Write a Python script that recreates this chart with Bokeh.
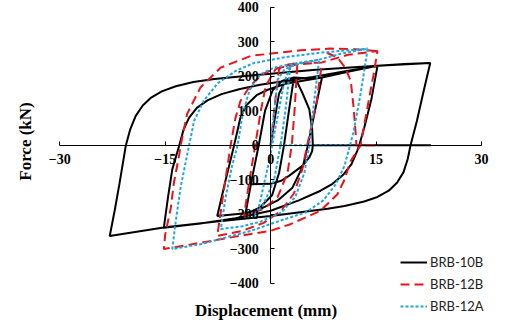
import math
from bokeh.plotting import figure
from bokeh.models import ColumnDataSource, Range1d, FixedTicker, Label, Legend, LegendItem
from bokeh.embed import file_html
from bokeh.resources import INLINE

NaN = float("nan")

# ---------------- data ----------------
brb10b_x = [0, 0.6, 1.2, 2.0, 3.3,
            2.6, 1.9, 1.2, 0.2, -1.5, -3.6,
            -2.7, -1.7, -0.8, 0.3, 1.6, 3.3,
            5.0, 7.3,
            6.3, 5.3, 4.6, 3.1, 1.0, -1.5, -3.6, -7.6,
            -6.4, -5.2, -4.3, -3.5, -2.0, -0.5, 2.1, 5.0, 7.3,
            11.0, 15.2,
            14.3, 13.3, 12.6, 12.3, 11.5, 10.4, 8.8, 7.1, 4.0, 0.0, -5.0, -10.0, -15.2,
            -14.6, -14.0, -13.0, -12.4, -11.6, -10.5, -9.0, -7.0, -4.5, -1.5, 2.0, 6.0, 10.0, 15.2,
            19.0, 22.7,
            21.8, 20.8, 19.9, 19.5, 18.9, 18.0, 16.8, 15.2, 13.3, 10.5, 8.1, 0.0, -8.0, -15.0, -22.9,
            -22.2, -21.5, -20.6, -20.0, -19.2, -18.2, -17.0, -15.5, -13.5, -11.0, -8.0, -4.0, 0.0, 6.0, 14.0, 22.7,
            NaN,
            -2.8, 0.0, 1.5, 2.6, 4.5, 5.5, 5.9, 6.0, 5.9, 5.5, 4.5, 3.6, 2.5,
            NaN,
            6.0, 22.8]
brb10b_y = [0, 80, 150, 182, 196,
            100, 0, -80, -145, -180, -200,
            -100, 0, 100, 160, 186, 196,
            194, 196,
            100, 0, -60, -123, -160, -185, -197, -205,
            -100, 0, 80, 115, 145, 160, 178, 188, 196,
            213, 230,
            130, 50, 0, -17, -55, -84, -112, -132, -160, -190, -212, -227, -239,
            -150, -70, 0, 45, 80, 108, 130, 148, 162, 175, 186, 198, 212, 230,
            235, 238,
            160, 70, 0, -40, -78, -108, -132, -150, -163, -176, -184, -205, -222, -238, -263,
            -190, -110, 0, 45, 85, 115, 138, 156, 171, 183, 192, 200, 207, 218, 229, 238,
            NaN,
            -113, -112, -103, -89, -60, -35, -17, 0, 46, 104, 152, 190, 186,
            NaN,
            0, 0]

brb12b_x = [0, 0.6, 1.2, 2.5, 3.8,
            3.4, 3.0, 2.4, 1.0, -1.0, -3.8,
            -3.0, -2.2, -1.4, -0.7, 0.7, 2.5, 3.8,
            5.5, 7.3,
            6.5, 5.2, 4.5, 3.3, 1.5, -1.0, -4.0, -7.6,
            -6.8, -5.7, -5.0, -4.3, -3.0, -1.2, 0.5, 3.5, 7.3,
            11.0, 15.2,
            14.6, 14.2, 13.5, 12.8, 11.4, 10.5, 9.5, 7.1, 2.8, 0.0, -5.0, -10.0, -15.2,
            -15.0, -14.2, -13.8, -13.0, -12.8, -11.9, -10.0, -7.1, -2.8, 4.3, 8.5, 12.0, 15.2,
            NaN,
            8.0, 9.5, 10.6, 11.4, 11.8, 12.1, 12.2, 15.2]
brb12b_y = [0, 120, 221, 232, 238,
            100, 0, -80, -150, -185, -205,
            -100, 0, 100, 172, 221, 234, 238,
            238, 240,
            120, 0, -70, -140, -190, -225, -248, -263,
            -150, 0, 80, 128, 170, 205, 222, 233, 240,
            262, 273,
            200, 157, 80, 0, -45, -100, -142, -190, -229, -248, -265, -283, -301,
            -258, -181, -113, -26, 0, 90, 167, 225, 259, 275, 280, 278, 273,
            NaN,
            268, 254, 225, 186, 109, 32, 0, 0]

brb12a_x = [0, 0.5, 1.0, 2.0, 2.8,
            2.1, 1.4, 0.5, -1.0, -2.5,
            -1.7, 0.0, 0.2, 1.9, 2.8,
            4.5, 6.9,
            6.2, 5.5, 4.8, 3.5, 1.5, -1.5, -4.0, -7.1,
            -6.4, -5.5, -4.7, -4.0, -3.0, -1.5, 0.5, 3.5, 6.9,
            10.0, 13.8,
            12.8, 11.8, 11.3, 10.5, 9.2, 7.5, 5.0, 1.9, -2.8, -10.0, -14.0,
            -13.5, -12.8, -12.0, -11.6, -10.9, -9.5, -7.5, -5.0, -2.4, 2.0, 7.0, 13.8,
            NaN,
            1.2, 11.4]
brb12a_y = [0, 100, 190, 220, 228,
            100, 0, -100, -170, -210,
            -181, -26, 0, 181, 228,
            238, 248,
            130, 0, -80, -150, -195, -222, -235, -243,
            -150, -60, 0, 90, 160, 205, 225, 237, 248,
            265, 280,
            150, 40, 0, -60, -115, -160, -195, -215, -248, -287, -301,
            -220, -120, -40, 0, 70, 130, 180, 215, 238, 255, 268, 280,
            NaN,
            0, 0]

series_names = ["BRB-10B", "BRB-12B", "BRB-12A"]
x_ticks = [-30, -15, 0, 15, 30]
y_ticks = [-400, -300, -200, -100, 0, 100, 200, 300, 400]
x_title = "Displacement (mm)"
y_title = "Force (kN)"

# ---------------- figure ----------------
W, H = 505, 324
p = figure(width=W, height=H, output_backend="svg", toolbar_location=None,
           x_range=Range1d(-38.44, 33.41), y_range=Range1d(-519.7, 419.4),
           min_border=0, min_border_left=0, min_border_right=0,
           min_border_top=0, min_border_bottom=0)
p.outline_line_color = None
p.grid.visible = False
p.background_fill_color = "white"

for ax in (p.xaxis[0], p.yaxis[0]):
    ax.fixed_location = 0
    ax.axis_line_color = "black"
    ax.axis_line_width = 1
    ax.major_tick_line_color = "black"
    ax.minor_tick_line_color = None
    ax.major_tick_out = 0
    ax.major_tick_in = 4
    ax.major_label_text_font = "Liberation Serif"
    ax.major_label_text_font_style = "bold"
    ax.major_label_text_font_size = "14px"
    ax.major_label_text_color = "black"

p.xaxis[0].ticker = FixedTicker(ticks=x_ticks)
p.xaxis[0].bounds = (x_ticks[0], x_ticks[-1])
p.xaxis[0].major_label_standoff = 9
p.yaxis[0].ticker = FixedTicker(ticks=y_ticks)
p.yaxis[0].bounds = (y_ticks[0], y_ticks[-1])
p.yaxis[0].major_label_standoff = 12

src_b = ColumnDataSource(dict(x=brb10b_x, y=brb10b_y))
src_r = ColumnDataSource(dict(x=brb12b_x, y=brb12b_y))
src_c = ColumnDataSource(dict(x=brb12a_x, y=brb12a_y))

r_b = p.line("x", "y", source=src_b, line_color="black", line_width=2)
r_r = p.line("x", "y", source=src_r, line_color="#E8141B", line_width=2, line_dash="9 5")
r_c = p.line("x", "y", source=src_c, line_color="#21A6DE", line_width=2, line_dash="3 2")

legend = Legend(items=[LegendItem(label=series_names[0], renderers=[r_b]),
                       LegendItem(label=series_names[1], renderers=[r_r]),
                       LegendItem(label=series_names[2], renderers=[r_c])],
                location=(400, 10))
legend.background_fill_alpha = 0
legend.border_line_color = None
legend.padding = 0
legend.margin = 0
legend.spacing = 6
legend.glyph_width = 27
legend.glyph_height = 14
legend.label_height = 14
legend.label_standoff = 3
legend.label_text_font = "Lato"
legend.label_text_font_size = "13px"
legend.label_text_color = "#222222"
p.add_layout(legend)

p.add_layout(Label(x=25, y=H - 141, x_units="screen", y_units="screen", text=y_title,
                   angle=math.pi / 2, text_align="center", text_baseline="middle",
                   text_font="Liberation Serif", text_font_style="bold",
                   text_font_size="17px", text_color="black"))
p.add_layout(Label(x=265.5, y=H - 310, x_units="screen", y_units="screen", text=x_title,
                   text_align="center", text_baseline="middle",
                   text_font="Liberation Serif", text_font_style="bold",
                   text_font_size="17px", text_color="black"))

open("out.html", "w").write(file_html(p, INLINE))
